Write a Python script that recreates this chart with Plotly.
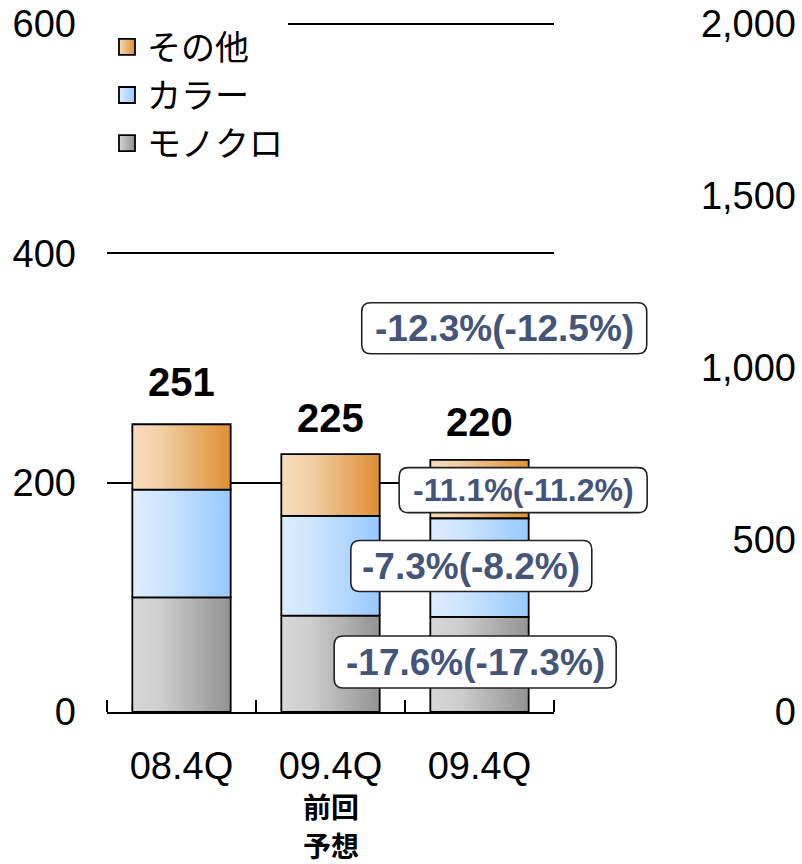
import plotly.graph_objects as go

# ---------------- data ----------------
categories = ["08.4Q", "09.4Q", "09.4Q"]
sub_lines = ["前回", "予想"]          # note under the 2nd category
series_names = ["モノクロ", "カラー", "その他"]
mono = [100, 84, 83]
color = [94, 87, 86]
other = [57, 54, 51]
totals = [251, 225, 220]
change_labels = ["-17.6%(-17.3%)", "-7.3%(-8.2%)", "-11.1%(-11.2%)", "-12.3%(-12.5%)"]
left_ticks = [0, 200, 400, 600]
right_ticks = [0, 500, 1000, 1500, 2000]
right_tick_text = ["0", "500", "1,000", "1,500", "2,000"]

# ---------------- style ----------------
FONT = "Liberation Sans, Arial, Noto Sans CJK JP, sans-serif"
JFONT = "Noto Sans CJK JP, Liberation Sans, sans-serif"
scales = [
    [[0, "#D8D8D8"], [0.3, "#CDCDCD"], [1, "#939393"]],
    [[0, "#DCEDFF"], [0.3, "#CFE6FF"], [1, "#97C9FF"]],
    [[0, "#F7DDBC"], [0.3, "#F1CFA5"], [1, "#E08F34"]],
]
legend_cols = [("#D6D6D6", "#8F8F8F"), ("#DCEDFF", "#94C7FF"), ("#F7DDBC", "#DE8C30")]
half_w = 0.33

W, H = 802, 864
L, R, T, B = 107, 2, 23, 152
plot_w = W - L - R
x_end = (554 - L) / plot_w
xmin, xmax = -0.5, 2.5
ymax = 601

fig = go.Figure()

# legend entries (top to bottom: その他, カラー, モノクロ)
for s in [2, 1, 0]:
    name = series_names[s]
    fig.add_trace(go.Scatter(
        x=[None], y=[None], mode="markers", name=name, legendgroup=name,
        marker=dict(symbol="square", size=20, color=legend_cols[s][0],
                    gradient=dict(type="horizontal", color=legend_cols[s][1]),
                    line=dict(color="black", width=1.8)),
        hoverinfo="skip",
    ))

series_vals = [mono, color, other]
bases = [0, 0, 0]
for s, (name, vals) in enumerate(zip(series_names, series_vals)):
    for i, v in enumerate(vals):
        b = bases[i]
        xs = [i - half_w, i + half_w, i + half_w, i - half_w, i - half_w]
        ys = [b, b, b + v, b + v, b]
        fig.add_trace(go.Scatter(
            x=xs, y=ys, mode="lines", fill="toself",
            line=dict(color="black", width=1.8),
            fillgradient=dict(type="horizontal", colorscale=scales[s]),
            name=name, legendgroup=name, showlegend=False,
            hoverinfo="skip",
        ))
        bases[i] = b + v

# dummy trace to activate right axis
fig.add_trace(go.Scatter(x=[None], y=[None], yaxis="y2", showlegend=False, hoverinfo="skip"))

annotations = []
shapes = []
tot_shift = [18, 12, 14]
for i, t in enumerate(totals):
    annotations.append(dict(x=i, y=t, xref="x", yref="y", text=f"<b>{t}</b>",
                            showarrow=False, yanchor="bottom", yshift=tot_shift[i],
                            font=dict(family=FONT, size=40, color="black")))

for k, line in enumerate(sub_lines):
    annotations.append(dict(x=1, y=0, xref="x", yref="paper", text=f"<b>{line}</b>",
                            showarrow=False, yanchor="middle", yshift=-(94 + 39 * k),
                            font=dict(family=JFONT, size=28, color="black")))


def rounded_box(w, h, r):
    a, b = w / 2, h / 2
    return (f"M{-a + r},{-b} L{a - r},{-b} Q{a},{-b} {a},{-b + r} "
            f"L{a},{b - r} Q{a},{b} {a - r},{b} L{-a + r},{b} "
            f"Q{-a},{b} {-a},{b - r} L{-a},{-b + r} Q{-a},{-b} {-a + r},{-b} Z")


# change boxes: (x, y, font size, box width px, box height px)
box_specs = [(1.971, 43.6, 37, 282, 52), (1.945, 127.3, 37, 241, 51),
             (2.293, 193.5, 32, 248, 45), (2.166, 334.8, 37, 285, 51)]
for lab, (bx, by, fs, w, h) in zip(change_labels, box_specs):
    px = (bx - xmin) / (xmax - xmin) * x_end
    py = by / ymax
    shapes.append(dict(type="path", xref="paper", yref="paper", xsizemode="pixel", ysizemode="pixel",
                       xanchor=px, yanchor=py, path=rounded_box(w, h, 9),
                       fillcolor="white", line=dict(color="#222222", width=1.6),
                       layer="above"))
    annotations.append(dict(x=bx, y=by, xref="x", yref="y", text=f"<b>{lab}</b>",
                            showarrow=False, yanchor="middle", xanchor="center",
                            font=dict(family=FONT, size=fs, color="#44557B")))

fig.update_layout(
    width=W, height=H,
    margin=dict(l=L, r=R, t=T, b=B, autoexpand=False),
    paper_bgcolor="white", plot_bgcolor="white",
    font=dict(family=FONT, size=38, color="black"),
    showlegend=True,
    legend=dict(x=0, y=1.007, xanchor="left", yanchor="top", bgcolor="white",
                traceorder="grouped", tracegroupgap=1,
                font=dict(family=JFONT, size=34, color="black")),
    xaxis=dict(domain=[0, x_end], range=[xmin, xmax], tickmode="array",
               tickvals=[0, 1, 2], ticktext=categories, ticks="",
               showgrid=False, zeroline=False, showline=True, automargin=False,
               linecolor="black", linewidth=2, ticklabelstandoff=19,
               tickfont=dict(family=FONT, size=38),
               minor=dict(tickmode="array", tickvals=[-0.5, 0.5, 1.5, 2.5],
                          ticks="inside", ticklen=12, tickwidth=1.5, tickcolor="black",
                          showgrid=False)),
    yaxis=dict(range=[0, ymax], tickmode="array", tickvals=left_ticks,
               showgrid=True, gridcolor="black", gridwidth=1.5, zeroline=False,
               showline=False, ticks="", ticklabelstandoff=30, automargin=False,
               ticklabeloverflow="allow",
               tickfont=dict(family=FONT, size=38)),
    yaxis2=dict(range=[0, 2000 * ymax / 600], tickmode="array", tickvals=right_ticks,
                ticktext=right_tick_text, overlaying="y", side="left",
                anchor="free", position=1, showgrid=False, zeroline=False,
                showline=False, ticks="", ticklabelstandoff=4, automargin=False,
                ticklabeloverflow="allow",
                tickfont=dict(family=FONT, size=38)),
    annotations=annotations,
    shapes=shapes,
)

fig.write_html("out.html", config={"displayModeBar": False},
               post_script="document.body.style.margin='0';document.body.style.overflow='hidden';")
